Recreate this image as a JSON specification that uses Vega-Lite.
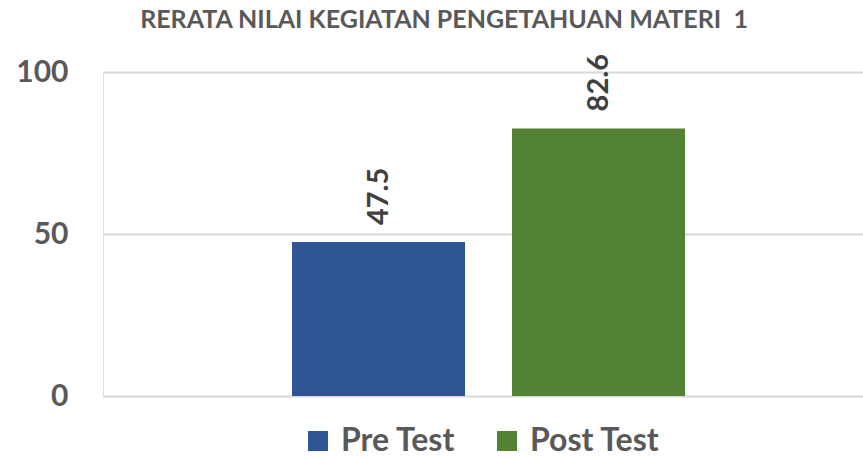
{
  "$schema": "https://vega.github.io/schema/vega-lite/v6.json",
  "autosize": "none",
  "width": 760,
  "height": 324,
  "padding": {"left": 103, "top": 72, "right": 0, "bottom": 61},
  "background": "white",
  "title": {
    "text": "RERATA NILAI KEGIATAN PENGETAHUAN MATERI \u00a01",
    "font": "Lato",
    "fontSize": 25,
    "fontWeight": "bold",
    "color": "#595959",
    "anchor": "middle",
    "dx": -39,
    "offset": 21
  },
  "data": {
    "values": [
      {"series": "Pre Test", "value": 47.5},
      {"series": "Post Test", "value": 82.6}
    ]
  },
  "encoding": {
    "x": {
      "field": "series",
      "type": "nominal",
      "sort": ["Pre Test", "Post Test"],
      "scale": {"paddingInner": 0.2136, "paddingOuter": 0.834, "align": 0.515},
      "axis": null
    },
    "y": {
      "field": "value",
      "type": "quantitative",
      "scale": {"domain": [0, 100], "nice": false},
      "axis": {
        "values": [0, 50, 100],
        "title": null,
        "domain": false,
        "ticks": false,
        "labelPadding": 35,
        "labelFont": "Lato",
        "labelFontSize": 30,
        "labelFontWeight": "bold",
        "labelColor": "#595959",
        "gridColor": "#D9D9D9",
        "gridWidth": 2
      }
    }
  },
  "layer": [
    {
      "mark": {"type": "bar"},
      "encoding": {
        "color": {
          "field": "series",
          "type": "nominal",
          "sort": ["Pre Test", "Post Test"],
          "scale": {"domain": ["Pre Test", "Post Test"], "range": ["#2F5597", "#548235"]},
          "legend": {
            "orient": "none",
            "legendX": 199,
            "legendY": 353,
            "direction": "horizontal",
            "title": null,
            "symbolType": "square",
            "symbolSize": 400,
            "symbolStrokeWidth": 0,
            "labelFont": "Lato",
            "labelFontSize": 32,
            "labelFontWeight": "bold",
            "labelColor": "#595959",
            "columnPadding": 35,
            "labelOffset": 7
          }
        }
      }
    },
    {
      "mark": {
        "type": "text",
        "angle": -90,
        "align": "left",
        "baseline": "middle",
        "dx": 17,
        "font": "Lato",
        "fontSize": 29,
        "fontWeight": "bold",
        "color": "#404040"
      },
      "encoding": {
        "text": {"field": "value", "type": "quantitative", "format": ".1f"}
      }
    }
  ]
}
